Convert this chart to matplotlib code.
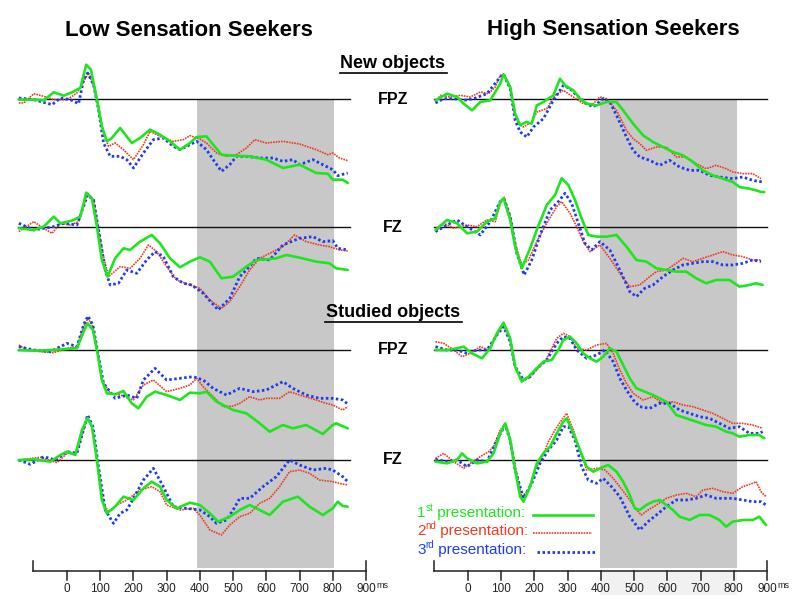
import matplotlib
matplotlib.use("Agg")
import matplotlib.pyplot as plt
from matplotlib.lines import Line2D

plt.rcParams['font.family'] = ['Liberation Sans', 'DejaVu Sans']

# ---- data: (time in ms, amplitude in uV) ----
# Low sensation seekers, new objects, FPZ
low_new_fpz_1 = [(-145, -0.2), (-100, -0.2), (-70, -0.4), (-40, 2.0), (-10, 1.0), (15, 2.0), (40, 3.3), (58, 10.3),
                 (72, 8.8), (90, -0.2), (105, -8.2), (120, -12.7), (135, -11.7), (160, -8.7), (195, -13.2),
                 (220, -11.7), (250, -9.2), (280, -10.7), (310, -12.7), (340, -15.2), (370, -13.2), (390, -11.4),
                 (420, -11.2), (440, -13.7), (465, -16.7), (500, -17.0), (550, -17.2), (600, -18.2), (650, -20.7),
                 (700, -19.7), (750, -22.2), (785, -22.4), (800, -24.2), (830, -24.2), (845, -25.2)]
low_new_fpz_2 = [(-145, -1.2), (-130, -1.2), (-100, 1.6), (-70, 0.8), (-40, -0.2), (0, -0.2), (30, 1.8), (50, 5.3),
                 (65, 7.8), (80, 3.8), (95, -2.2), (110, -10.2), (125, -14.2), (145, -13.2), (170, -15.2),
                 (200, -18.2), (230, -13.7), (250, -9.7), (280, -11.2), (320, -12.7), (350, -12.2), (370, -11.0),
                 (400, -12.0), (420, -13.2), (450, -16.2), (480, -17.2), (510, -16.7), (540, -14.7), (565, -12.2),
                 (600, -13.2), (650, -12.7), (700, -13.5), (750, -15.2), (785, -16.7), (800, -16.2), (820, -17.7),
                 (845, -18.5)]
low_new_fpz_3 = [(-145, 0.3), (-100, -0.2), (-45, -1.7), (-20, 0.3), (10, -0.2), (35, -1.4), (50, 5.8), (62, 7.8),
                 (80, 4.3), (95, -3.2), (110, -13.2), (130, -17.2), (160, -17.2), (180, -18.2), (200, -20.7),
                 (230, -16.2), (260, -12.2), (290, -11.7), (320, -14.2), (340, -15.2), (370, -13.7), (390, -12.7),
                 (420, -15.2), (440, -18.2), (465, -21.7), (490, -19.7), (510, -17.2), (540, -17.2), (580, -17.7),
                 (620, -17.7), (650, -18.7), (680, -18.2), (700, -19.7), (740, -18.2), (770, -19.7), (800, -21.2),
                 (815, -23.0), (845, -22.2)]

# Low, new objects, FZ
low_new_fz_1 = [(-145, -0.3), (-100, -0.8), (-70, 0.2), (-40, 3.2), (-20, 1.2), (15, 2.0), (40, 3.2), (58, 10.4),
                (75, 8.7), (90, 0.2), (105, -9.8), (122, -14.8), (145, -9.3), (170, -6.3), (190, -6.8), (220, -4.3),
                (255, -2.3), (280, -4.8), (310, -9.3), (340, -12.0), (370, -10.3), (400, -9.0), (430, -10.3),
                (465, -15.3), (500, -14.8), (540, -11.8), (570, -9.8), (600, -9.6), (630, -9.3), (660, -8.3),
                (700, -9.1), (750, -10.3), (790, -10.8), (810, -12.3), (845, -12.8)]
low_new_fz_2 = [(-145, -1.3), (-100, 1.7), (-70, -0.3), (-45, -1.8), (-20, 1.2), (10, 0.7), (35, 1.7), (62, 10.2),
                (80, 8.2), (95, -0.8), (110, -8.8), (125, -14.8), (160, -11.8), (190, -12.3), (220, -9.3),
                (245, -5.3), (270, -7.3), (300, -11.8), (330, -15.8), (370, -17.3), (400, -18.3), (430, -21.8),
                (465, -24.3), (490, -22.3), (520, -17.8), (550, -12.8), (580, -9.3), (620, -7.3), (650, -5.8),
                (685, -2.3), (720, -4.3), (760, -5.3), (790, -5.8), (820, -6.8), (845, -7.1)]
low_new_fz_3 = [(-145, 1.2), (-100, -0.8), (-70, -0.3), (-40, 0.2), (-10, 1.2), (30, 0.7), (62, 9.7), (80, 8.2),
                (95, -0.8), (115, -12.8), (130, -17.3), (155, -16.8), (180, -12.8), (210, -13.8), (240, -9.8),
                (265, -7.3), (290, -8.8), (320, -14.8), (350, -16.8), (375, -17.3), (410, -19.8), (455, -24.8),
                (490, -21.3), (520, -14.8), (540, -12.8), (570, -9.3), (610, -9.8), (650, -5.3), (700, -3.3),
                (740, -2.8), (770, -4.3), (800, -4.0), (815, -6.3), (845, -6.8)]

# Low, studied objects, FPZ
low_stu_fpz_1 = [(-145, 0.0), (-100, -0.2), (-50, 0.0), (0, 0.3), (30, 0.5), (50, 5.5), (62, 8.0), (78, 6.0),
                 (92, -1.0), (105, -9.0), (120, -13.0), (145, -13.3), (170, -12.3), (195, -16.0), (215, -17.5),
                 (240, -14.0), (265, -12.5), (300, -13.5), (340, -15.0), (370, -12.8), (400, -13.0), (420, -12.5),
                 (450, -15.5), (500, -18.0), (540, -19.0), (580, -22.0), (610, -24.5), (650, -22.5), (680, -23.5),
                 (720, -22.5), (770, -25.2), (800, -22.5), (810, -22.0), (845, -23.5)]
low_stu_fpz_2 = [(-145, 1.5), (-120, 0.0), (-80, -0.5), (-40, -0.8), (0, 0.5), (30, 1.0), (50, 7.0), (63, 9.5),
                 (78, 7.0), (92, -1.0), (105, -9.0), (130, -13.0), (160, -13.5), (200, -15.0), (230, -10.5),
                 (260, -9.0), (300, -12.5), (340, -11.5), (370, -10.5), (390, -8.5), (410, -11.0), (440, -14.0),
                 (470, -17.0), (500, -16.8), (520, -16.0), (550, -14.0), (580, -15.0), (600, -14.5), (640, -14.5),
                 (670, -12.5), (700, -13.5), (750, -15.0), (780, -16.0), (800, -16.5), (830, -18.0), (845, -17.0)]
low_stu_fpz_3 = [(-145, 1.0), (-100, 0.0), (-50, -0.5), (-20, 1.0), (0, 2.0), (30, 1.0), (50, 7.5), (63, 10.2),
                 (78, 7.5), (92, -0.5), (110, -10.0), (145, -14.5), (180, -13.5), (210, -14.5), (230, -9.0),
                 (265, -5.5), (300, -9.0), (340, -8.5), (380, -8.0), (410, -9.0), (440, -11.5), (480, -13.5),
                 (520, -11.5), (560, -12.5), (600, -12.0), (650, -9.5), (680, -11.5), (720, -13.5), (760, -14.5),
                 (800, -14.5), (830, -15.0), (845, -16.2)]

# Low, studied objects, FZ
low_stu_fz_1 = [(-145, 0.0), (-100, 0.2), (-50, -0.5), (-20, 1.5), (0, 2.5), (25, 1.5), (45, 9.0), (62, 12.6),
                (75, 10.0), (90, 0.0), (105, -12.0), (120, -16.0), (145, -14.0), (170, -11.0), (200, -12.0),
                (230, -8.5), (255, -6.5), (280, -8.0), (300, -12.0), (330, -14.5), (370, -12.8), (400, -13.5),
                (430, -16.0), (455, -18.5), (490, -17.0), (520, -15.0), (550, -13.5), (580, -15.0), (610, -16.5),
                (650, -12.5), (695, -11.0), (730, -14.0), (770, -16.5), (800, -14.5), (815, -12.5), (830, -13.8),
                (845, -14.0)]
low_stu_fz_2 = [(-145, 0.0), (-80, 0.8), (-30, -0.8), (0, 2.0), (30, 2.5), (62, 12.8), (78, 9.0), (92, -1.0),
                (110, -13.0), (125, -15.5), (150, -13.5), (180, -12.0), (220, -9.0), (255, -8.0), (280, -9.5),
                (300, -13.5), (340, -15.0), (380, -14.5), (400, -16.5), (430, -21.0), (465, -22.5), (490, -19.5),
                (520, -17.0), (550, -16.0), (580, -13.0), (610, -11.5), (640, -8.0), (670, -3.5), (700, -3.0),
                (730, -4.0), (760, -6.0), (800, -6.5), (820, -7.0), (845, -7.5)]
low_stu_fz_3 = [(-145, 0.0), (-110, -1.3), (-70, 1.0), (-35, 0.0), (0, 2.5), (30, 2.0), (62, 13.5), (78, 10.0),
                (95, -2.0), (115, -15.0), (140, -19.0), (160, -16.0), (180, -15.0), (200, -11.5), (230, -6.0),
                (260, -2.5), (290, -8.0), (320, -14.0), (360, -14.5), (400, -15.0), (430, -17.0), (450, -19.0),
                (480, -18.0), (500, -15.0), (520, -11.5), (550, -11.5), (590, -8.0), (630, -5.0), (670, 0.0),
                (700, -1.5), (740, -3.0), (780, -2.5), (800, -3.0), (830, -5.0), (845, -6.5)]

# High sensation seekers, new objects, FPZ
high_new_fpz_1 = [(-98, -0.4), (-63, 1.6), (-33, 0.6), (-13, -1.4), (12, -3.4), (37, -0.9), (67, -0.4), (97, 4.6),
                  (107, 7.4), (127, 3.6), (142, -4.4), (157, -7.9), (175, -6.9), (192, -7.4), (207, -1.9),
                  (227, -0.9), (257, 1.1), (277, 6.1), (292, 4.1), (317, 2.6), (337, 0.1), (357, -1.4), (387, -1.9),
                  (417, -0.9), (447, -0.9), (467, -3.4), (497, -7.4), (527, -10.9), (557, -12.9), (587, -14.4),
                  (617, -15.9), (647, -16.9), (677, -18.9), (707, -21.4), (737, -22.9), (767, -23.9), (797, -24.9),
                  (817, -26.4), (847, -26.9), (867, -27.4), (882, -27.9), (892, -27.9)]
high_new_fpz_2 = [(-98, -0.9), (-83, 1.1), (-53, 0.6), (-23, 1.1), (7, 0.6), (37, 2.1), (62, 1.6), (82, 3.6),
                  (97, 7.1), (109, 7.4), (127, 3.6), (137, -3.4), (152, -7.4), (167, -8.4), (192, -6.9), (207, -3.9),
                  (237, -2.9), (262, 1.1), (287, 2.6), (317, 0.6), (347, -1.4), (377, -1.4), (397, 0.6), (417, 0.1),
                  (447, -3.4), (477, -9.4), (497, -11.9), (517, -13.4), (537, -15.4), (567, -14.4), (597, -14.4),
                  (627, -17.4), (657, -17.4), (687, -19.4), (717, -20.9), (747, -19.9), (777, -20.9), (797, -21.9),
                  (827, -22.4), (857, -22.4), (882, -23.9)]
high_new_fpz_3 = [(-98, -1.2), (-73, 0.1), (-43, 0.1), (-13, -0.4), (17, 0.1), (57, 1.6), (97, 6.6), (107, 7.4),
                  (127, 3.1), (142, -6.4), (157, -9.9), (177, -11.4), (197, -8.4), (227, -5.9), (257, -0.4),
                  (287, 4.1), (307, 3.1), (327, 1.1), (357, -1.4), (377, -2.4), (407, 0.1), (427, -0.9), (447, -4.9),
                  (477, -11.4), (497, -15.4), (517, -17.4), (547, -18.4), (577, -19.9), (607, -18.4), (637, -20.4),
                  (667, -21.4), (697, -21.4), (727, -22.9), (757, -23.4), (797, -23.9), (827, -23.4), (857, -24.4),
                  (887, -24.9)]

# High, new objects, FZ
high_new_fz_1 = [(-98, -0.8), (-63, 2.2), (-33, 1.2), (-3, -1.8), (27, -1.3), (57, 1.7), (82, 2.7), (97, 7.7),
                 (107, 8.7), (127, 2.2), (142, -5.8), (162, -12.3), (187, -6.3), (207, -0.8), (237, 6.7), (262, 9.7),
                 (282, 14.7), (302, 12.7), (322, 8.2), (342, 2.7), (362, -2.3), (387, -2.8), (417, -2.8),
                 (447, -2.3), (477, -5.8), (507, -9.8), (537, -10.3), (567, -12.3), (597, -12.8), (627, -13.3),
                 (657, -13.3), (687, -15.3), (717, -16.8), (747, -15.8), (787, -15.8), (817, -17.8), (847, -17.3),
                 (867, -16.8), (887, -17.3)]
high_new_fz_2 = [(-98, -1.3), (-73, 1.2), (-43, -0.3), (-3, 0.7), (27, 0.2), (57, 2.2), (82, 1.7), (97, 7.2),
                 (109, 9.0), (127, 3.2), (142, -4.8), (162, -11.3), (182, -9.8), (207, -4.3), (237, 1.2), (267, 6.2),
                 (282, 7.7), (307, 4.2), (327, 0.2), (347, -4.3), (367, -7.3), (397, -5.3), (427, -9.3),
                 (457, -13.8), (487, -17.8), (517, -17.3), (547, -14.8), (567, -13.3), (597, -12.8), (627, -10.8),
                 (647, -9.3), (677, -10.3), (707, -9.3), (737, -8.3), (767, -7.3), (797, -8.3), (827, -8.8),
                 (857, -9.8), (882, -9.8)]
high_new_fz_3 = [(-98, -1.3), (-63, 0.7), (-33, 2.2), (-3, 0.2), (37, -2.3), (67, 1.7), (97, 7.7), (109, 8.4),
                 (127, 3.2), (147, -7.8), (169, -14.3), (192, -9.8), (217, -2.3), (247, 5.2), (272, 7.7),
                 (292, 10.2), (312, 7.2), (332, 1.2), (352, -4.8), (372, -6.8), (397, -4.3), (427, -6.8),
                 (457, -12.8), (487, -19.3), (507, -20.8), (532, -18.3), (557, -17.3), (587, -14.8), (617, -12.8),
                 (647, -11.3), (677, -10.8), (707, -10.3), (737, -10.3), (767, -11.3), (797, -11.3), (827, -10.8),
                 (857, -9.8), (882, -10.3)]

# High, studied objects, FPZ
high_stu_fpz_1 = [(-98, 0.0), (-63, 0.0), (-33, 0.5), (-13, 1.0), (12, -1.0), (42, -2.5), (67, 0.5), (87, 5.0),
                  (107, 8.2), (127, 3.5), (142, -5.0), (162, -9.5), (182, -8.0), (202, -6.0), (227, -3.5),
                  (252, -3.0), (272, 0.0), (287, 3.0), (307, 4.0), (327, 2.0), (347, -1.0), (367, -2.5), (387, -3.5),
                  (407, -2.0), (427, 0.5), (447, -0.5), (467, -4.5), (487, -8.5), (507, -11.5), (532, -12.5),
                  (557, -13.5), (577, -14.5), (597, -15.5), (627, -19.5), (657, -20.5), (687, -21.5), (717, -22.5),
                  (747, -23.0), (777, -24.5), (797, -25.0), (817, -26.0), (847, -25.5), (877, -25.5), (892, -26.5)]
high_stu_fpz_2 = [(-98, 2.5), (-73, 2.0), (-43, 0.0), (-18, -2.0), (7, -1.0), (37, 1.0), (62, 0.0), (87, 4.5),
                  (107, 7.5), (127, 3.0), (142, -5.5), (162, -9.0), (182, -8.5), (207, -6.0), (237, -2.5), (267, 3.5),
                  (287, 5.0), (307, 4.0), (327, 0.5), (357, 0.0), (387, 1.5), (417, 2.0), (437, -1.0), (457, -6.0),
                  (477, -10.0), (497, -13.0), (527, -15.0), (557, -14.0), (587, -16.0), (617, -15.5), (647, -16.5),
                  (677, -17.0), (707, -18.0), (737, -19.0), (767, -20.5), (797, -22.0), (827, -22.0), (857, -22.5),
                  (887, -23.5)]
high_stu_fpz_3 = [(-98, 1.0), (-63, 0.0), (-33, 0.0), (-3, -1.0), (27, 0.0), (57, 0.0), (87, 4.5), (107, 7.0),
                  (127, 2.5), (142, -5.0), (167, -9.0), (187, -8.0), (207, -5.5), (237, -3.0), (267, 2.0), (287, 4.0),
                  (307, 3.5), (327, 0.0), (357, -2.5), (387, -1.5), (412, 0.0), (437, -3.5), (457, -8.5),
                  (477, -12.0), (497, -15.0), (517, -17.0), (547, -17.5), (577, -16.0), (607, -16.0), (637, -18.0),
                  (667, -19.0), (697, -20.0), (727, -20.5), (757, -22.0), (787, -23.5), (817, -23.0), (847, -25.0),
                  (877, -25.0), (887, -24.5)]

# High, studied objects, FZ
high_stu_fz_1 = [(-98, -0.5), (-63, -1.0), (-33, 0.0), (-18, 2.0), (-3, 0.5), (27, -1.0), (57, -0.5), (77, 2.0),
                 (97, 8.0), (112, 11.0), (127, 6.0), (142, -3.0), (157, -11.0), (167, -12.5), (187, -8.0),
                 (207, -1.0), (227, 2.0), (247, 4.0), (267, 8.0), (287, 11.5), (297, 12.5), (317, 8.0), (337, 3.0),
                 (357, -2.0), (377, -3.5), (397, -2.5), (422, -1.5), (447, -3.5), (467, -6.5), (487, -10.5),
                 (502, -14.5), (517, -15.0), (537, -13.5), (557, -12.5), (577, -12.0), (597, -13.5), (617, -15.0),
                 (637, -17.0), (667, -18.0), (697, -16.5), (727, -16.5), (757, -18.0), (777, -20.0), (797, -18.5),
                 (827, -18.0), (857, -18.0), (877, -17.0), (897, -19.5)]
high_stu_fz_2 = [(-98, 0.5), (-73, 2.0), (-43, -0.5), (-13, -2.5), (7, -1.0), (37, 1.0), (62, 2.5), (77, 4.0),
                 (97, 9.0), (112, 11.0), (127, 6.5), (142, -2.0), (162, -11.0), (182, -9.0), (202, -3.0), (222, 0.5),
                 (242, 5.5), (262, 9.0), (282, 12.0), (297, 14.0), (317, 9.0), (337, 3.0), (357, -3.0), (387, -2.5),
                 (412, -3.0), (437, -5.5), (457, -8.0), (487, -12.0), (507, -15.0), (522, -16.5), (542, -15.0),
                 (567, -13.5), (597, -11.5), (627, -10.5), (657, -10.0), (687, -11.0), (707, -9.0), (737, -8.5),
                 (767, -9.5), (797, -10.0), (827, -8.0), (857, -7.0), (867, -6.5), (882, -9.5), (897, -11.0)]
high_stu_fz_3 = [(-98, 0.2), (-63, -0.5), (-33, 0.0), (-3, -2.0), (27, 0.0), (57, -0.5), (87, 6.0), (112, 10.5),
                 (127, 6.0), (142, -3.0), (167, -11.5), (192, -7.0), (217, -1.0), (242, 3.0), (267, 6.0), (287, 10.0),
                 (302, 10.0), (322, 6.0), (342, -2.0), (362, -6.0), (387, -7.0), (407, -5.5), (432, -8.0),
                 (457, -11.0), (487, -17.0), (517, -21.0), (542, -18.5), (567, -16.5), (597, -14.0), (627, -12.0),
                 (657, -12.0), (687, -11.5), (717, -10.5), (747, -11.5), (767, -11.5), (797, -11.5), (827, -12.0),
                 (857, -12.5), (882, -12.5), (897, -13.5)]

group_titles = ['Low Sensation Seekers', 'High Sensation Seekers']
electrodes = ['FPZ', 'FZ', 'FPZ', 'FZ']
tick_values = [0, 100, 200, 300, 400, 500, 600, 700, 800, 900]
legend_num = ['1', '2', '3']
legend_sup = ['st', 'nd', 'rd']
legend_word = ' presentation:'

panels = [
    [[low_new_fpz_1, low_new_fpz_2, low_new_fpz_3], [low_new_fz_1, low_new_fz_2, low_new_fz_3],
     [low_stu_fpz_1, low_stu_fpz_2, low_stu_fpz_3], [low_stu_fz_1, low_stu_fz_2, low_stu_fz_3]],
    [[high_new_fpz_1, high_new_fpz_2, high_new_fpz_3], [high_new_fz_1, high_new_fz_2, high_new_fz_3],
     [high_stu_fpz_1, high_stu_fpz_2, high_stu_fpz_3], [high_stu_fz_1, high_stu_fz_2, high_stu_fz_3]],
]

# ---- styling / layout ----
W, H = 800, 613
UNIT = 10 / 3.0                       # pixels per uV
row_base = [-99 / UNIT, -227.3 / UNIT, -350 / UNIT, -460 / UNIT]
axis_y = -571 / UNIT
colors = ['#1ee61e', '#f03a22', '#1f3cf0']
styles = [dict(lw=1.9, ls='-'),
          dict(lw=1.2, ls=(0, (1, 0.6))),
          dict(lw=2.0, ls=(0, (0.9, 0.9)))]
baseline_span = [(-148, 852), (-102, 900)]
shade = [(391, 804), (397, 810)]
zero_px = [67, 468]
px_per_ms = 0.3322

fig = plt.figure(figsize=(W / 100, H / 100), dpi=100)

for c in range(2):
    x0 = zero_px[c] - 200 * px_per_ms
    ax = fig.add_axes([x0 / W, 0, 1190 * px_per_ms / W, 1])
    ax.set_xlim(-200, 990)
    ax.set_ylim(-H / UNIT, 0)
    ax.axis('off')

    # analysis window
    ax.fill_between(shade[c], -568 / UNIT, -100 / UNIT, color='#c8c8c8', lw=0, zorder=0)
    if c == 1:
        ax.fill_between(shade[c], -595 / UNIT, -571 / UNIT, color='#f1f1f1', lw=0, zorder=0)

    for r in range(4):
        ax.plot(baseline_span[c], [row_base[r]] * 2, color='#111111', lw=1.0, zorder=1)
        for k in [1, 2, 0]:
            t = [p[0] for p in panels[c][r][k]]
            v = [row_base[r] + p[1] for p in panels[c][r][k]]
            ax.plot(t, v, color=colors[k], solid_capstyle='round', zorder=2 + (k == 0), **styles[k])

    # time axis
    ax.plot([-102, 900], [axis_y, axis_y], color='#222222', lw=1.1)
    ax.plot([-102, -102], [axis_y, axis_y + 10 / UNIT], color='#222222', lw=1.1)
    ax.plot([900, 900], [axis_y + 10 / UNIT, axis_y - 9 / UNIT], color='#222222', lw=1.1)
    for tv in tick_values[:-1]:
        ax.plot([tv, tv], [axis_y, axis_y - 9 / UNIT], color='#222222', lw=1.1)
    for tv in tick_values:
        ax.text(tv, -589 / UNIT, str(tv), ha='center', va='center', fontsize=8.5, color='#222222')
    ax.text(948, -585 / UNIT, 'ms', ha='center', va='center', fontsize=6.5, color='#222222')

# titles and labels
title_x = [189, 613]
for c in range(2):
    fig.text(title_x[c] / W, 1 - 30 / H, group_titles[c], ha='center', va='center',
             fontsize=16, fontweight='bold')

for txt, y, half in [('New objects', 64, 53.5), ('Studied objects', 313, 68.5)]:
    fig.text(393 / W, 1 - y / H, txt, ha='center', va='center', fontsize=13, fontweight='bold')
    fig.add_artist(Line2D([(393 - half) / W, (393 + half) / W], [1 - (y + 9) / H] * 2,
                          color='black', lw=1.2))

label_y = [99, 227.3, 350, 460]
for name, y in zip(electrodes, label_y):
    fig.text(393 / W, 1 - y / H, name, ha='center', va='center', fontsize=11.5, fontweight='bold')

# legend: number, raised ordinal suffix, then the word
renderer = fig.canvas.get_renderer()
leg_y = [513, 531, 550]
leg_line = [(533, 593), (533, 592), (537, 597)]
for k in range(3):
    y = 1 - leg_y[k] / H
    t1 = fig.text(417 / W, y, legend_num[k], ha='left', va='center', fontsize=11, color=colors[k])
    x1 = t1.get_window_extent(renderer).x1 / W
    t2 = fig.text(x1, y + 5 / H, legend_sup[k], ha='left', va='center', fontsize=7, color=colors[k])
    x2 = t2.get_window_extent(renderer).x1 / W
    fig.text(x2, y, legend_word, ha='left', va='center', fontsize=11, color=colors[k])
    fig.add_artist(Line2D([leg_line[k][0] / W, leg_line[k][1] / W], [1 - (leg_y[k] + 2) / H] * 2,
                          color=colors[k], **styles[k]))

fig.savefig('out.png', dpi=100)
